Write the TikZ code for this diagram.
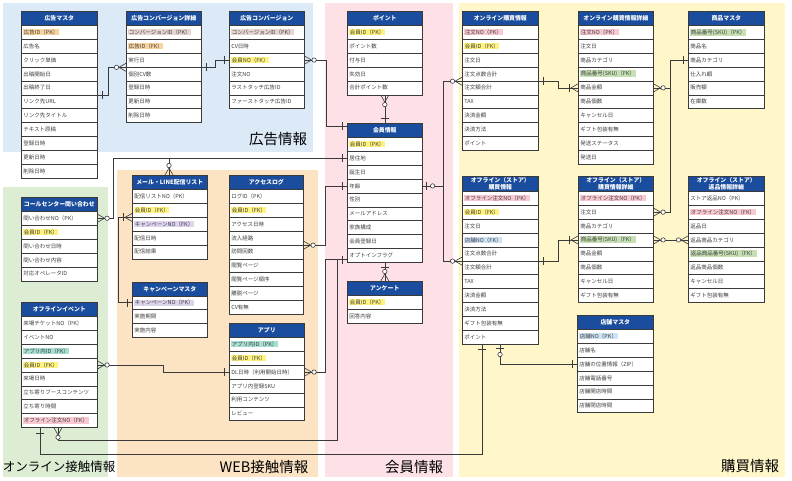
\documentclass[tikz,border=0pt]{standalone}
\usepackage{fontspec}
\setmainfont{Noto Sans CJK JP}
\definecolor{hdrblue}{HTML}{1B4D9E}
\definecolor{lncol}{HTML}{3A3A3A}
\definecolor{txtcol}{HTML}{404040}
\definecolor{bgblue}{HTML}{DCE9F6}
\definecolor{bgpink}{HTML}{FDE1E6}
\definecolor{bgyel}{HTML}{FFF6C9}
\definecolor{bggreen}{HTML}{DDEDD4}
\definecolor{bgorange}{HTML}{FCE3C4}
\definecolor{hlor}{HTML}{F9D49F}
\definecolor{hltan}{HTML}{E5D6D2}
\definecolor{hly}{HTML}{FFF27E}
\definecolor{hlpk}{HTML}{F9C9D2}
\definecolor{hlgr}{HTML}{C6E0B4}
\definecolor{hllv}{HTML}{DCD3EC}
\definecolor{hltl}{HTML}{A6DFD2}
\definecolor{hlbl}{HTML}{CFE3F7}
\setlength{\fboxsep}{0.6pt}
\newcommand{\hlc}[2]{\colorbox{#1}{#2}}
\tikzset{
  hdr/.style={draw=lncol, line width=0.6pt, fill=hdrblue, text=white, inner xsep=2pt, inner ysep=0pt, align=center, font=\fontsize{5.9}{6.5}\selectfont\bfseries},
  row/.style={draw=lncol, line width=0.6pt, fill=white, text=txtcol, inner xsep=2pt, inner ysep=0pt, align=left, minimum height=13.9pt, font=\fontsize{5.5}{6.2}\selectfont},
  conn/.style={draw=lncol, line width=0.6pt},
  mk/.style={draw=lncol, line width=0.6pt},
  biglbl/.style={text=black, font=\fontsize{14.5}{16}\selectfont, inner sep=0pt},
  mkone/.pic={\draw[mk] (5,-4)--(5,4);},
  mkzone/.pic={\draw[mk] (4,-4)--(4,4); \draw[mk,fill=white] (10,0) circle (2.2);},
  mkzmany/.pic={\draw[mk] (0,-4)--(7,0)--(0,4); \draw[mk,fill=white] (9.5,0) circle (2.2);},
  mkomany/.pic={\draw[mk] (0,-4)--(7,0)--(0,4); \draw[mk] (9,-4)--(9,4);}
}
% name, x, y, width, header height, header, rows
\newcommand{\ertable}[7]{%
  \pgfmathsetmacro\ertw{#4-4}%
  \node[hdr, text width=\ertw pt, minimum height=#5pt, anchor=north west] (#1-h) at (#2,#3) {#6};
  \foreach \r [count=\i] in {#7} {
    \pgfmathsetmacro\ery{#3+#5+(\i-1)*13.9}
    \node[row, text width=\ertw pt, anchor=north west] (#1-\i) at (#2,\ery) {\r};
  }
}
\begin{document}
\begin{tikzpicture}[x=1pt,y=-1pt]
\useasboundingbox (0,0) rectangle (792,480);
% backgrounds
\fill[bgblue] (3,3) rectangle (313,152);
\fill[bgpink] (325,3) rectangle (453,477);
\fill[bgyel] (459,3) rectangle (785,477);
\fill[bggreen] (3,187) rectangle (108,477);
\fill[bgorange] (117,170) rectangle (318,477);
% area labels
\node[biglbl] (lbl-ad) at (278,139) {広告情報};
\node[biglbl, font=\fontsize{12.5}{14}\selectfont] (lbl-on) at (59,467) {オンライン接触情報};
\node[biglbl] (lbl-web) at (264,467) {WEB接触情報};
\node[biglbl] (lbl-mem) at (414,467) {会員情報};
\node[biglbl] (lbl-buy) at (750,466) {購買情報};
% tables
\ertable{adm}{21}{11}{76}{14}{広告マスタ}{\hlc{hlor}{広告ID（PK）},広告名,クリック単価,出稿開始日,出稿終了日,リンク先URL,リンク先タイトル,テキスト原稿,登録日時,更新日時,削除日時}
\ertable{cvd}{126}{11}{75}{14}{広告コンバージョン詳細}{\hlc{hltan}{コンバージョンID（PK）},\hlc{hlor}{広告ID（FK）},実行日,個別CV数,登録日時,更新日時,削除日時}
\ertable{cv}{229}{11}{75}{14}{広告コンバージョン}{\hlc{hltan}{コンバージョンID（PK）},CV日時,\hlc{hly}{会員NO（FK）},注文NO,ラストタッチ広告ID,ファーストタッチ広告ID}
\ertable{pt}{347}{11}{75}{14}{ポイント}{\hlc{hly}{会員ID（PK）},ポイント数,付与日,失効日,合計ポイント数}
\ertable{mem}{347}{123}{75}{14}{会員情報}{\hlc{hly}{会員ID（PK）},居住地,誕生日,年齢,性別,メールアドレス,家族構成,会員登録日,オプトインフラグ}
\ertable{enq}{347}{281}{75}{14}{アンケート}{\hlc{hly}{会員ID（PK）},回答内容}
\ertable{onp}{462}{11}{76}{14}{オンライン購買情報}{\hlc{hlpk}{注文NO（PK）},\hlc{hly}{会員ID（FK）},注文日,注文点数合計,注文額合計,TAX,決済金額,決済方法,ポイント}
\ertable{onpd}{578}{11}{75}{14}{オンライン購買情報詳細}{\hlc{hlpk}{注文NO（PK）},注文日,商品カテゴリ,\hlc{hlgr}{商品番号(SKU)（FK）},商品金額,商品個数,キャンセル日,ギフト包装有無,発送ステータス,発送日}
\ertable{prod}{688}{11}{76}{14}{商品マスタ}{\hlc{hlgr}{商品番号(SKU)（PK）},商品名,商品カテゴリ,仕入れ額,販売額,在庫数}
\ertable{cc}{21}{197}{76}{14}{コールセンター問い合わせ}{問い合わせNO（PK）,\hlc{hly}{会員ID（FK）},問い合わせ日時,問い合わせ内容,対応オペレータID}
\ertable{mail}{132}{175}{75}{14}{メール・LINE配信リスト}{配信リストNO（PK）,\hlc{hly}{会員ID（FK）},\hlc{hllv}{キャンペーンNO（FK）},配信日時,配信結果}
\ertable{camp}{132}{282}{75}{13.5}{キャンペーンマスタ}{\hlc{hllv}{キャンペーンNO（PK）},実施期間,実施内容}
\ertable{acc}{229}{175}{74}{14}{アクセスログ}{ログID（PK）,\hlc{hly}{会員ID（FK）},アクセス日時,流入経路,訪問回数,閲覧ページ,閲覧ページ順序,離脱ページ,CV有無}
\ertable{app}{229}{323}{75}{14}{アプリ}{\hlc{hltl}{アプリ内ID（PK）},\hlc{hly}{会員ID（FK）},DL日時（利用開始日時）,アプリ内登録SKU,利用コンテンツ,レビュー}
\ertable{ev}{21}{302}{76}{14}{オフラインイベント}{来場チケットNO（PK）,イベントNO,\hlc{hltl}{アプリ内ID（FK）},\hlc{hly}{会員ID（FK）},来場日時,立ち寄りブースコンテンツ,立ち寄り時間,\hlc{hlpk}{オフライン注文NO（FK）}}
\ertable{ofp}{462}{176}{76}{15}{オフライン（ストア）\\購買情報}{\hlc{hlpk}{オフライン注文NO（PK）},\hlc{hly}{会員ID（FK）},注文日,\hlc{hlbl}{店舗NO（FK）},注文点数合計,注文額合計,TAX,決済金額,決済方法,ギフト包装有無,ポイント}
\ertable{ofpd}{578}{176}{75}{15}{オフライン（ストア）\\購買情報詳細}{\hlc{hlpk}{オフライン注文NO（PK）},注文日,商品カテゴリ,\hlc{hlgr}{商品番号(SKU)（FK）},商品金額,商品個数,キャンセル日,ギフト包装有無}
\ertable{ret}{688}{176}{76}{15}{オフライン（ストア）\\返品情報詳細}{ストア返品NO（PK）,\hlc{hlpk}{オフライン注文NO（FK）},返品日,返品商品カテゴリ,\hlc{hlgr}{返品商品番号(SKU)（FK）},返品商品個数,キャンセル日,ギフト包装有無}
\ertable{store}{577}{315}{76}{14}{店舗マスタ}{\hlc{hlbl}{店舗NO（PK）},店舗名,店舗の位置情報（ZIP）,店舗電話番号,店舗開店時間,店舗閉店時間}
% connectors
\draw[conn] (adm-5.south east) -- ++(11,0) |- (cvd-3.south west);
\draw[conn] (cvd-3.south east) -- ++(14,0) |- (cv-3.west);
\draw[conn] (cv-3.east) -- ++(22,0) |- ([yshift=4pt]mem-h.west);
\draw[conn] (cc-1.east) -- ++(16,0) |- (mem-2.west);
\draw[conn] ([xshift=37pt]mail-h.north west) |- (mem-2.west);
\draw[conn] (mail-2.south west) -- ++(-14,0) |- (camp-1.west);
\draw[conn] (acc-4.south east) -- ++(22,0) |- (mem-4.west);
\draw[conn] (app-3.east) -- ++(21,0) |- ([yshift=3pt]mem-9.south west);
\draw[conn] ([xshift=37pt]ev-8.south west) -- ++(0,12) -| ([xshift=-10pt,yshift=3pt]mem-9.south west) -- ([yshift=3pt]mem-9.south west);
\draw[conn] ([xshift=19pt]ev-8.south west) -- ++(0,26) -| ([xshift=20pt]ofp-11.south west);
\draw[conn] (ev-4.east) -- ++(66,0) |- (app-3.west);
\draw[conn] (pt-5.south) -- (mem-h.north);
\draw[conn] (mem-9.south) -- (enq-h.north);
\draw[conn] (mem-4.east) -- ++(21,0) |- (onp-4.south west);
\draw[conn] (mem-4.east) -- ++(21,0) |- (ofp-5.south west);
\draw[conn] (onp-4.south east) -- ++(20,0) |- (onpd-5.west);
\draw[conn] (onpd-5.east) -- ++(17,0) |- (prod-3.west);
\draw[conn] (ofpd-2.east) -- ++(17,0) |- (prod-3.west);
\draw[conn] (ofp-5.south east) -- ++(20,0) |- (ofpd-4.west);
\draw[conn] (ofpd-4.east) -- (ret-4.west);
\draw[conn] ([xshift=38pt]ofp-11.south west) |- (store-3.west);
% marks
\path (adm-5.south east) pic {mkone};
\path (cvd-3.south west) pic[rotate=180] {mkzmany};
\path (cvd-3.south east) pic {mkone};
\path (cv-3.west) pic[rotate=180] {mkone};
\path (cv-3.east) pic {mkzmany};
\path ([yshift=4pt]mem-h.west) pic[rotate=180] {mkone};
\path (cc-1.east) pic {mkzmany};
\path (mem-2.west) pic[rotate=180] {mkone};
\path ([xshift=37pt]mail-h.north west) pic[rotate=90] {mkzmany};
\path (mail-2.south west) pic[rotate=180] {mkomany};
\path (camp-1.west) pic[rotate=180] {mkone};
\path (acc-4.south east) pic {mkzmany};
\path (mem-4.west) pic[rotate=180] {mkone};
\path (app-3.east) pic {mkzmany};
\path ([yshift=3pt]mem-9.south west) pic[rotate=180] {mkone};
\path ([xshift=37pt]ev-8.south west) pic[rotate=-90] {mkzmany};
\path ([xshift=19pt]ev-8.south west) pic[rotate=-90] {mkone};
\path ([xshift=20pt]ofp-11.south west) pic[rotate=-90] {mkone};
\path (ev-4.east) pic {mkzmany};
\path (app-3.west) pic[rotate=180] {mkone};
\path (pt-5.south) pic[rotate=-90] {mkzmany};
\path (mem-h.north) pic[rotate=90] {mkone};
\path (mem-9.south) pic[rotate=-90] {mkone};
\path (enq-h.north) pic[rotate=90] {mkzmany};
\path (mem-4.east) pic {mkzone};
\path (onp-4.south west) pic[rotate=180] {mkzmany};
\path (ofp-5.south west) pic[rotate=180] {mkzmany};
\path (onp-4.south east) pic {mkone};
\path (onpd-5.west) pic[rotate=180] {mkomany};
\path (onpd-5.east) pic {mkzmany};
\path (prod-3.west) pic[rotate=180] {mkone};
\path (ofpd-2.east) pic {mkzmany};
\path (ofp-5.south east) pic {mkone};
\path (ofpd-4.west) pic[rotate=180] {mkomany};
\path (ofpd-4.east) pic {mkzmany};
\path (ret-4.west) pic[rotate=180] {mkzmany};
\path ([xshift=38pt]ofp-11.south west) pic[rotate=-90] {mkzone};
\path (store-3.west) pic[rotate=180] {mkone};
\end{tikzpicture}
\end{document}
